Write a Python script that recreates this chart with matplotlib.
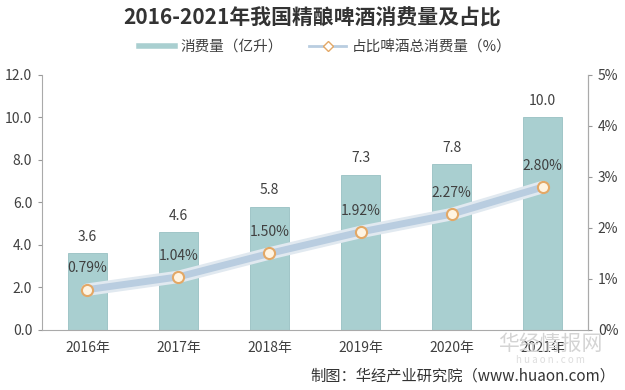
import matplotlib.pyplot as plt
from matplotlib.lines import Line2D

plt.rcParams['font.family'] = ['Noto Sans CJK SC', 'DejaVu Sans']

# 数据
years = ["2016年", "2017年", "2018年", "2019年", "2020年", "2021年"]
volume = [3.6, 4.6, 5.8, 7.3, 7.8, 10.0]
share = [0.79, 1.04, 1.50, 1.92, 2.27, 2.80]
left_ticks = [0, 2, 4, 6, 8, 10, 12]
right_ticks = [0, 1, 2, 3, 4, 5]

bar_c = '#a9cfd0'
line_c = '#b9cde0'
txt_c = '#404040'

fig = plt.figure(figsize=(6.25, 3.9), dpi=100, facecolor='white')
ax = fig.add_axes([0.067, 0.154, 0.874, 0.654])
x = list(range(len(years)))

ax.bar(x, volume, width=0.43, color=bar_c, edgecolor='#98c0c2', linewidth=0.6, zorder=2)
for i, v in enumerate(volume):
    ax.text(i, v + 0.45, f"{v:.1f}", ha='center', va='bottom', fontsize=10, color=txt_c)

ax.set_xlim(-0.5, 5.5)
ax.set_ylim(0, 12)
ax.set_yticks(left_ticks)
ax.set_yticklabels([f"{t:.1f}" for t in left_ticks], fontsize=10, color=txt_c)
ax.set_xticks(x)
ax.set_xticklabels(years, fontsize=10, color=txt_c)
ax.tick_params(axis='x', length=0, pad=8)
ax.tick_params(axis='y', length=3, color='#999999', pad=4)
ax.spines['top'].set_visible(False)
for s in ['left', 'right', 'bottom']:
    ax.spines[s].set_color('#aaaaaa')

ax2 = ax.twinx()
ax2.set_ylim(0, 5)
ax2.set_yticks(right_ticks)
ax2.set_yticklabels([f"{t}%" for t in right_ticks], fontsize=10, color=txt_c)
ax2.tick_params(axis='y', length=3, color='#999999', pad=4)
ax2.spines['top'].set_visible(False)
ax2.spines['right'].set_color('#aaaaaa')
ax2.spines['left'].set_visible(False)
ax2.spines['bottom'].set_visible(False)

ax2.plot(x, share, color='#e1e9f0', linewidth=9, solid_capstyle='round', zorder=3)
ax2.plot(x, share, color=line_c, linewidth=5, solid_capstyle='round', zorder=4)
ax2.plot(x, share, linestyle='none', marker='o', markersize=8, markerfacecolor='#fff4e2',
         markeredgecolor='#e3a866', markeredgewidth=1.5, zorder=5)
for i, p in enumerate(share):
    ax2.text(i, p + 0.28, f"{p:.2f}%", ha='center', va='bottom', fontsize=10, color=txt_c, zorder=6)

fig.text(0.5, 0.955, "2016-2021年我国精酿啤酒消费量及占比", ha='center', va='center',
         fontsize=15, fontweight='bold', color='#333333')

handles = [Line2D([0], [0], color=bar_c, linewidth=4),
           Line2D([0], [0], color=line_c, linewidth=2, marker='D', markersize=5,
                  markerfacecolor='white', markeredgecolor='#e3a866')]
fig.legend(handles, ["消费量（亿升）", "占比啤酒总消费量（%）"], loc='center',
           bbox_to_anchor=(0.52, 0.88), ncol=2, frameon=False, fontsize=10.5,
           handlelength=2.5, columnspacing=1.8, handletextpad=0.4, labelcolor=txt_c)

# 水印
fig.text(0.88, 0.118, "华经情报网", ha='center', va='center', fontsize=15, color='#d4d4d4', zorder=0)
fig.text(0.88, 0.078, "h u a o n . c o m", ha='center', va='center', fontsize=7, color='#dddddd', zorder=0)

fig.text(0.985, 0.035, "制图：华经产业研究院（www.huaon.com）", ha='right', va='center',
         fontsize=11, color='#333333')

plt.savefig("out.png", dpi=100)
